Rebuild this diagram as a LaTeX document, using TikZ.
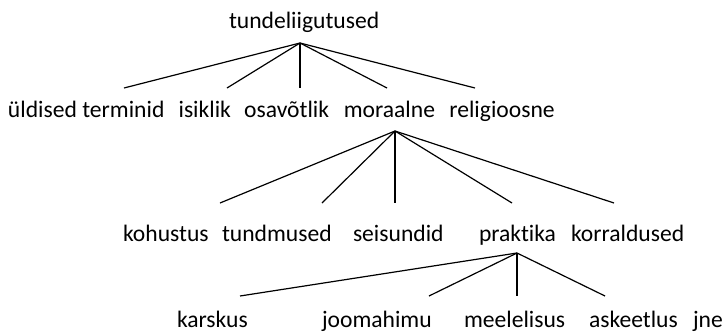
\documentclass[tikz,border=0pt]{standalone}
\usepackage{fontspec}
\setmainfont{Carlito}[Ligatures={NoCommon}]
\begin{document}
\begin{tikzpicture}[x=1pt,y=-1pt,
  word/.style={anchor=base west,inner sep=0pt,outer sep=0pt,font=\fontsize{23.6}{28}\selectfont},
  branch/.style={line width=1.2pt,black}]
\useasboundingbox (0,0) rectangle (724,333);
% level 0
\node[word] (root) at (229,28) {tundeliigutused};
% level 1
\node[word] (uldised) at (8,117) {üldised terminid};
\node[word] (isiklik) at (178.6,117) {isiklik};
\node[word] (osavotlik) at (244.2,117) {osavõtlik};
\node[word] (moraalne) at (343.8,117) {moraalne};
\node[word] (religioosne) at (449.4,117) {religioosne};
% level 2
\node[word] (kohustus) at (123,241) {kohustus};
\node[word] (tundmused) at (222,241) {tundmused};
\node[word] (seisundid) at (353,241) {seisundid};
\node[word] (praktika) at (479,241) {praktika};
\node[word] (korraldused) at (571,241) {korraldused};
% level 3
\node[word] (karskus) at (177,327) {karskus};
\node[word] (joomahimu) at (322,327) {joomahimu};
\node[word] (meelelisus) at (464,327) {meelelisus};
\node[word] (askeetlus) at (589,327) {askeetlus};
\node[word] (jne) at (693,327) {jne};
% apexes and line ends
\coordinate (rA) at (300,43);
\coordinate (e1) at (124,88);
\coordinate (e2) at (227,88);
\coordinate (e3) at (300,88);
\coordinate (e4) at (387,88);
\coordinate (e5) at (475,88);
\coordinate (mA) at (395,131);
\coordinate (f1) at (220,203);
\coordinate (f2) at (322,203);
\coordinate (f3) at (395,203);
\coordinate (f4) at (512,203);
\coordinate (f5) at (614,203);
\coordinate (pA) at (517,253);
\coordinate (g1) at (240,296);
\coordinate (g2) at (429,296);
\coordinate (g3) at (517,296);
\coordinate (g4) at (605,296);
\foreach \e in {e1,e2,e3,e4,e5} \draw[branch] (rA) -- (\e);
\foreach \e in {f1,f2,f3,f4,f5} \draw[branch] (mA) -- (\e);
\foreach \e in {g1,g2,g3,g4} \draw[branch] (pA) -- (\e);
\end{tikzpicture}
\end{document}
